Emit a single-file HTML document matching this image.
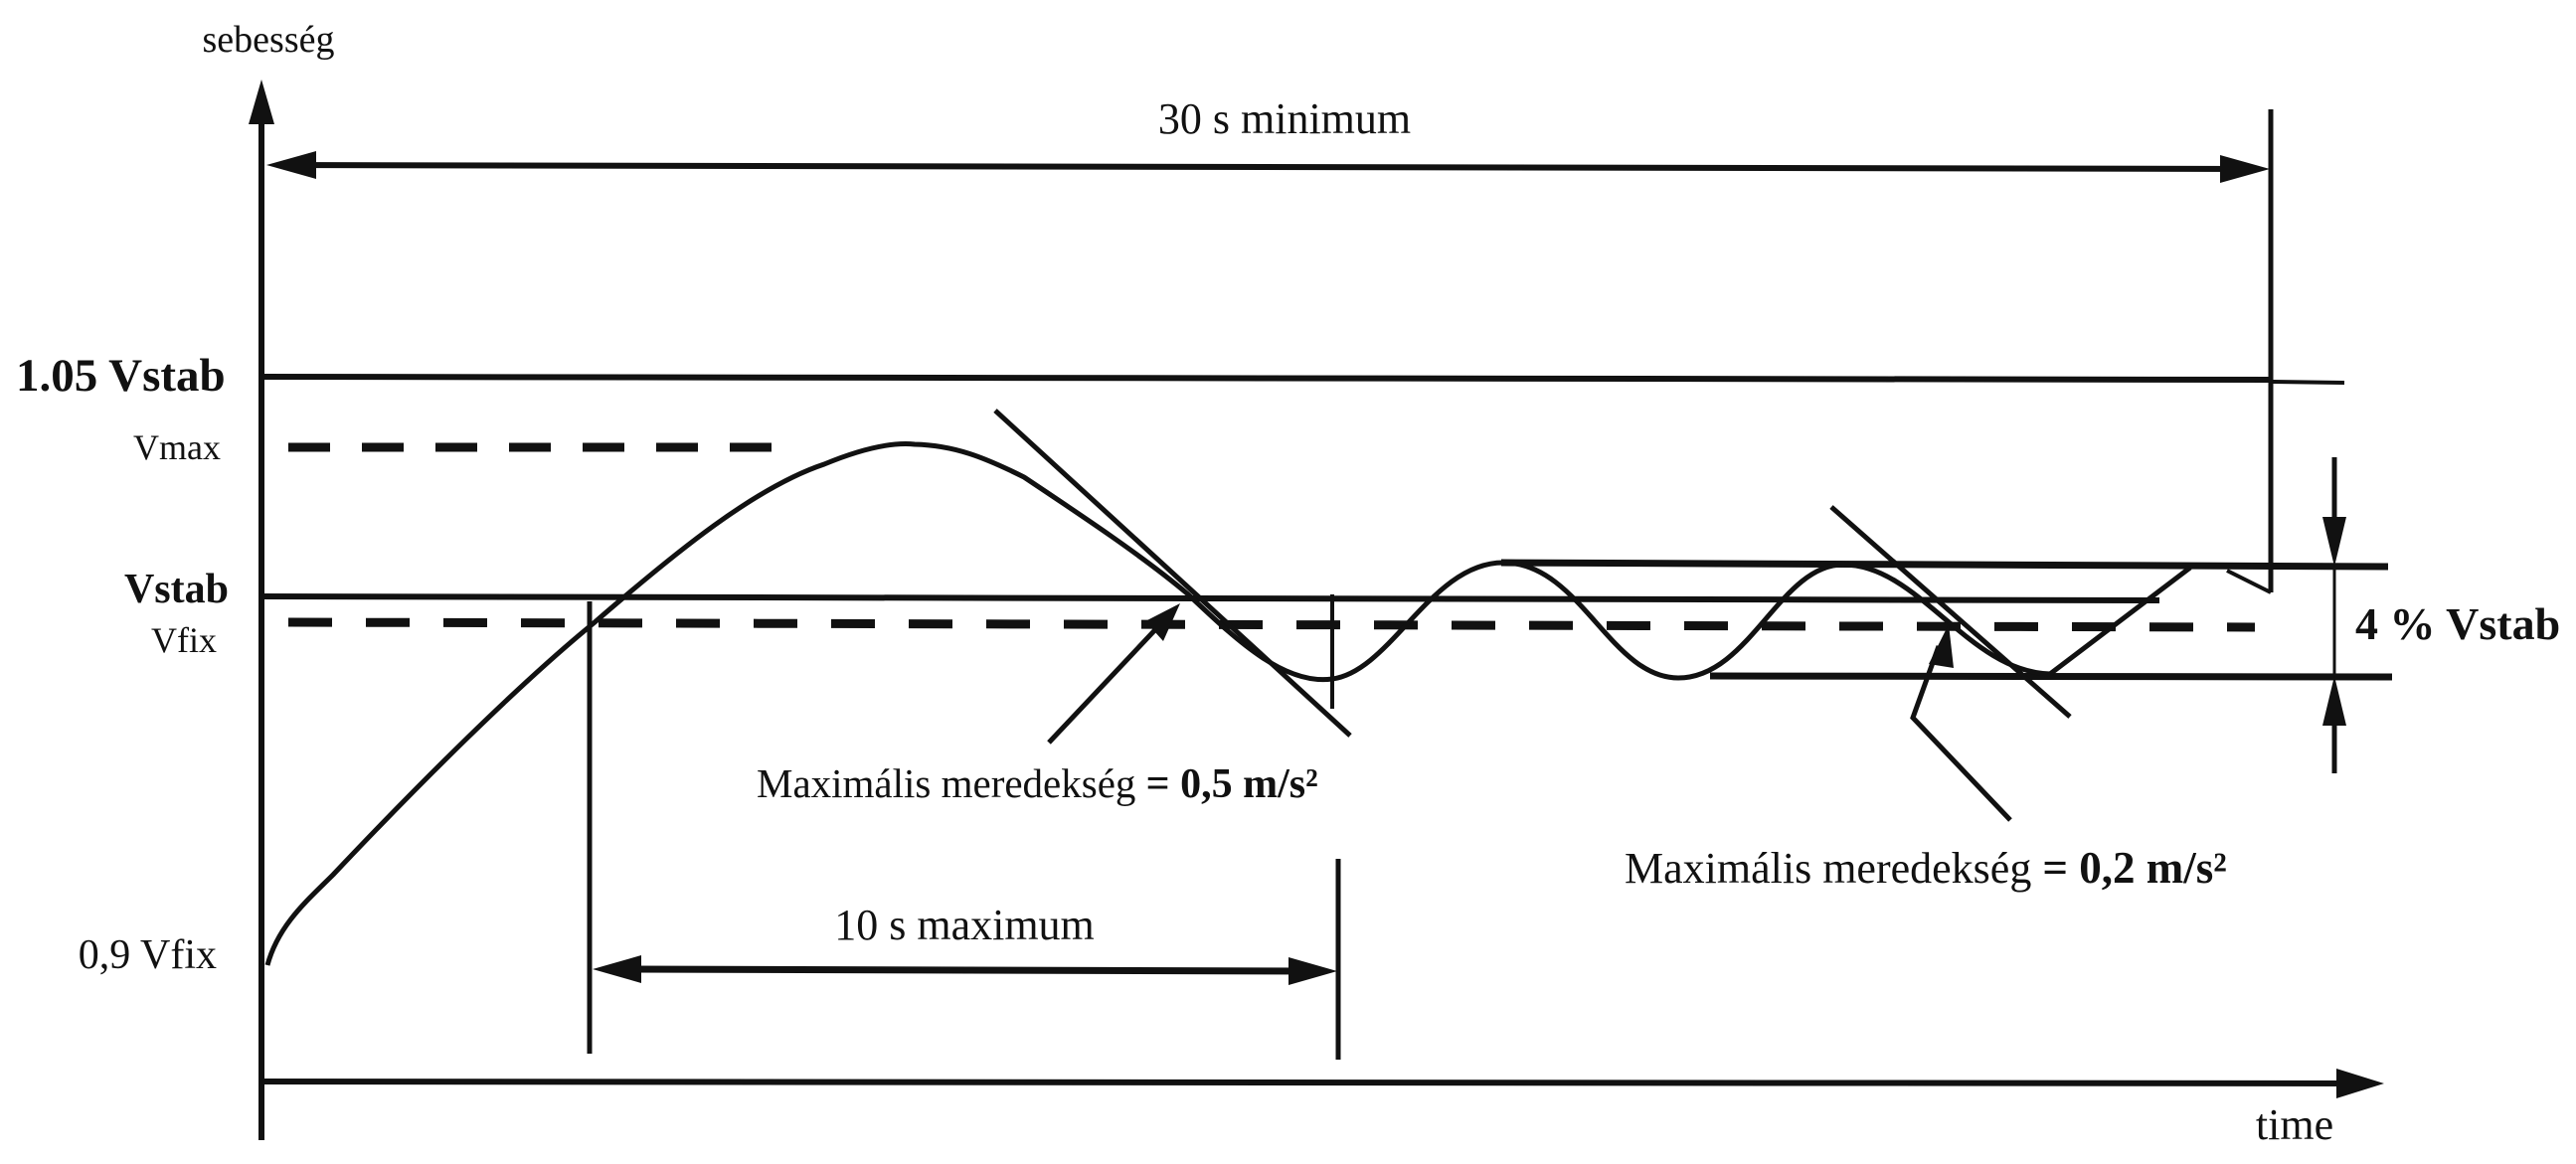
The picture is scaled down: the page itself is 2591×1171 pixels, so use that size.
<!DOCTYPE html>
<html><head><meta charset="utf-8"><style>
html,body{margin:0;padding:0;background:#fff;}
svg{display:block;}
text{font-family:"Liberation Serif",serif;fill:#111;}
</style></head><body>
<svg width="2591" height="1171" viewBox="0 0 2591 1171" xmlns="http://www.w3.org/2000/svg">
<g stroke="#111" fill="none" stroke-linecap="butt">
<line x1="263" y1="100" x2="263" y2="1147" stroke-width="6"/>
<line x1="263" y1="1088" x2="2370" y2="1090" stroke-width="6"/>
<line x1="285" y1="166" x2="2260" y2="170" stroke-width="6"/>
<line x1="2284" y1="110" x2="2284" y2="596" stroke-width="5"/>
<path d="M2240 574 L2284 596" stroke-width="4"/>
<line x1="263" y1="379" x2="2284" y2="382" stroke-width="6"/>
<line x1="2284" y1="384" x2="2358" y2="385" stroke-width="4"/>
<line x1="290" y1="450" x2="790" y2="450" stroke-width="9" stroke-dasharray="42,32"/>
<line x1="263" y1="600" x2="2172" y2="604" stroke-width="6"/>
<line x1="290" y1="626" x2="2268" y2="631" stroke-width="9" stroke-dasharray="44,34"/>
<line x1="1510" y1="566" x2="2402" y2="570" stroke-width="7"/>
<line x1="1720" y1="680" x2="2406" y2="681" stroke-width="7"/>
<line x1="2348" y1="460" x2="2348" y2="545" stroke-width="5"/>
<line x1="2348" y1="570" x2="2348" y2="680" stroke-width="3"/>
<line x1="2348" y1="705" x2="2348" y2="778" stroke-width="5"/>
<line x1="593" y1="605" x2="593" y2="1060" stroke-width="5"/>
<line x1="1346" y1="864" x2="1346" y2="1066" stroke-width="5"/>
<line x1="618" y1="975" x2="1322" y2="977" stroke-width="7"/>
<line x1="1340" y1="598" x2="1340" y2="713" stroke-width="4"/>
<path d="M269 971 C280 930 310 905 335 880 C420 790 520 690 597 627 C680 555 760 490 829 467 C870 450 900 445 920 447 C960 448 990 460 1030 480 C1090 520 1150 560 1194 597 C1240 640 1290 690 1340 683 C1400 675 1440 564 1514 566 C1590 568 1620 682 1688 682 C1760 682 1790 568 1854 568 C1930 568 1980 676 2062 678 L2203 571" stroke-width="5"/>
<line x1="1001" y1="413" x2="1358" y2="740" stroke-width="5"/>
<line x1="1842" y1="510" x2="2082" y2="721" stroke-width="5"/>
<line x1="1055" y1="747" x2="1170" y2="625" stroke-width="5"/>
<polyline points="2022,825 1924,722 1950,650" stroke-width="5"/>
</g>
<g fill="#111">
<polygon points="263,80 250,125 276,125"/>
<polygon points="2398,1090 2350,1075 2350,1105"/>
<polygon points="268,166 318,152 318,180"/>
<polygon points="2283,170 2233,156 2233,184"/>
<polygon points="596,975 645,961 645,989"/>
<polygon points="1345,977 1296,963 1296,991"/>
<polygon points="2348,570 2336,520 2360,520"/>
<polygon points="2348,680 2336,730 2360,730"/>
<polygon points="1187,607 1152,625 1170,645"/>
<polygon points="1960,628 1940,668 1965,672"/>
</g>
<g font-size="36">
<text x="270" y="52" text-anchor="middle" font-size="38">sebesség</text>
<text x="1292" y="134" text-anchor="middle" font-size="44">30 s minimum</text>
<text x="16" y="393" font-size="47" font-weight="bold">1.05 Vstab</text>
<text x="222" y="462" text-anchor="end">Vmax</text>
<text x="230" y="606" font-size="42" font-weight="bold" text-anchor="end">Vstab</text>
<text x="218" y="656" text-anchor="end">Vfix</text>
<text x="218" y="974" text-anchor="end" font-size="42">0,9 Vfix</text>
<text x="970" y="945" text-anchor="middle" font-size="44">10 s maximum</text>
<text x="761" y="802" font-size="41">Maximális meredekség <tspan font-weight="bold" font-size="42"> = 0,5 m/s²</tspan></text>
<text x="1634" y="888" font-size="44">Maximális meredekség <tspan font-weight="bold" font-size="45"> = 0,2 m/s²</tspan></text>
<text x="2369" y="643" font-size="46" font-weight="bold">4 % Vstab</text>
<text x="2308" y="1146" text-anchor="middle" font-size="44">time</text>
</g>
</svg>
</body></html>
